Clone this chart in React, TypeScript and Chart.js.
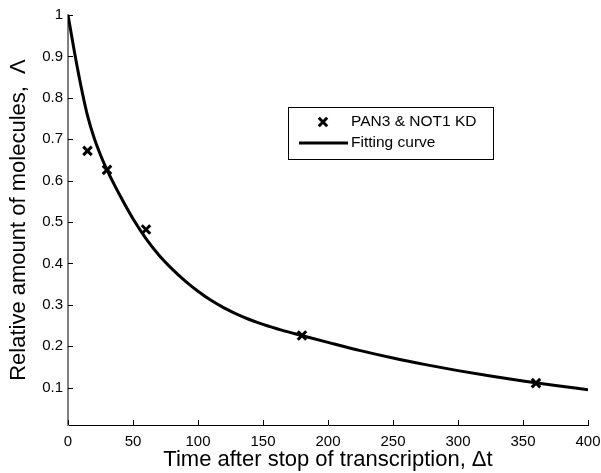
import React, { useEffect, useRef } from 'react';
import { Chart, registerables } from 'chart.js';

Chart.register(...registerables);

// ---- data ----
const markerTimes = [15, 30, 60, 180, 360];
const markerValues = [0.672, 0.626, 0.482, 0.226, 0.111];

const curveTimes = [0, 5, 10, 15, 20, 25, 30, 40, 50, 60, 70, 80, 90, 100, 110, 120, 135, 150, 165, 180, 200, 225, 250, 275, 300, 325, 350, 375, 400];
const curveValues = [1.0, 0.91, 0.828, 0.757, 0.704, 0.662, 0.626, 0.564, 0.508, 0.46, 0.42, 0.387, 0.358, 0.333, 0.311, 0.293, 0.2705, 0.253, 0.2385, 0.226, 0.2095, 0.1895, 0.1716, 0.1558, 0.1413, 0.1282, 0.1162, 0.1052, 0.0952];

const xTicks = [0, 50, 100, 150, 200, 250, 300, 350, 400];
const yTicks = [0.1, 0.2, 0.3, 0.4, 0.5, 0.6, 0.7, 0.8, 0.9, 1];

const seriesNames = ['PAN3 & NOT1 KD', 'Fitting curve'];
const xTitle = 'Time after stop of transcription, \u0394t';
const yTitle = 'Relative amount of molecules,  \u039B';

const FONT = '"Liberation Sans", Arial, Helvetica, sans-serif';

const inwardTicks = {
  id: 'inwardTicks',
  afterDraw(chart: any) {
    const ctx = chart.ctx;
    const xs = chart.scales.x;
    const ys = chart.scales.y;
    const area = chart.chartArea;
    ctx.save();
    ctx.strokeStyle = '#000';
    ctx.lineWidth = 1;
    ctx.beginPath();
    xTicks.forEach((v) => {
      const px = Math.round(xs.getPixelForValue(v)) + 0.5;
      ctx.moveTo(px, area.bottom);
      ctx.lineTo(px, area.bottom - 5);
    });
    yTicks.forEach((v) => {
      const py = Math.round(ys.getPixelForValue(v)) + 0.5;
      ctx.moveTo(area.left, py);
      ctx.lineTo(area.left + 5, py);
    });
    ctx.stroke();
    ctx.restore();
  },
};

const boxLegend = {
  id: 'boxLegend',
  afterDraw(chart: any) {
    const ctx = chart.ctx;
    const area = chart.chartArea;
    const bx = area.left + 220;
    const by = area.top + 92;
    const bw = 205;
    const bh = 52;
    ctx.save();
    ctx.fillStyle = '#fff';
    ctx.fillRect(bx, by, bw, bh);
    ctx.strokeStyle = '#000';
    ctx.lineWidth = 1;
    ctx.strokeRect(bx + 0.5, by + 0.5, bw, bh);

    // marker entry
    const mx = bx + 35;
    const my = by + 15;
    ctx.lineWidth = 3;
    ctx.beginPath();
    const r = 4.2;
    ctx.moveTo(mx - r, my - r);
    ctx.lineTo(mx + r, my + r);
    ctx.moveTo(mx - r, my + r);
    ctx.lineTo(mx + r, my - r);
    ctx.stroke();

    // line entry
    const ly = by + 36;
    ctx.beginPath();
    ctx.moveTo(bx + 11, ly);
    ctx.lineTo(bx + 60, ly);
    ctx.stroke();

    ctx.fillStyle = '#000';
    ctx.font = '15.5px ' + FONT;
    ctx.textAlign = 'left';
    ctx.textBaseline = 'middle';
    ctx.fillText(seriesNames[0], bx + 63, my);
    ctx.fillText(seriesNames[1], bx + 63, ly);
    ctx.restore();
  },
};

export default function App() {
  const canvasRef = useRef<HTMLCanvasElement | null>(null);

  useEffect(() => {
    document.body.style.margin = '0';
    const canvas = canvasRef.current;
    if (!canvas) return;
    const chart = new Chart(canvas, {
      type: 'scatter',
      data: {
        datasets: [
          {
            label: seriesNames[0],
            data: markerTimes.map((t, i) => ({ x: t, y: markerValues[i] })),
            showLine: false,
            pointStyle: 'crossRot',
            pointRadius: 6,
            pointBorderWidth: 3,
            borderColor: '#000',
            backgroundColor: '#000',
            order: 0,
          },
          {
            label: seriesNames[1],
            data: curveTimes.map((t, i) => ({ x: t, y: curveValues[i] })),
            showLine: true,
            pointRadius: 0,
            borderWidth: 3,
            borderColor: '#000',
            backgroundColor: '#000',
            cubicInterpolationMode: 'monotone',
            fill: false,
            order: 1,
          },
        ],
      },
      options: {
        animation: false,
        responsive: false,
        devicePixelRatio: 1,
        events: [],
        layout: { padding: { top: 15, right: 13, left: 0, bottom: 0 } },
        plugins: {
          legend: { display: false },
          tooltip: { enabled: false },
        },
        scales: {
          x: {
            type: 'linear',
            min: 0,
            max: 400,
            afterBuildTicks: (scale: any) => {
              scale.ticks = xTicks.map((v) => ({ value: v }));
            },
            afterFit: (scale: any) => {
              scale.height = 48;
              scale.paddingLeft = 0;
              scale.paddingRight = 0;
            },
            grid: { display: false, drawTicks: false },
            border: { display: true, color: '#000', width: 1 },
            ticks: {
              color: '#000',
              font: { family: FONT, size: 15 },
              padding: 8,
              maxRotation: 0,
              autoSkip: false,
              callback: (v: any) => String(v),
            },
            title: {
              display: true,
              text: xTitle,
              color: '#000',
              font: { family: FONT, size: 22 },
              padding: { top: 0, bottom: 0 },
            },
          },
          y: {
            type: 'linear',
            min: 0.01,
            max: 1,
            afterBuildTicks: (scale: any) => {
              scale.ticks = yTicks.map((v) => ({ value: v }));
            },
            afterFit: (scale: any) => {
              scale.width = 68;
              scale.paddingTop = 0;
              scale.paddingBottom = 0;
            },
            grid: { display: false, drawTicks: false },
            border: { display: true, color: '#808080', width: 2 },
            ticks: {
              color: '#000',
              font: { family: FONT, size: 15 },
              padding: 5,
              autoSkip: false,
              callback: (v: any) => String(Math.round(Number(v) * 10) / 10),
            },
            title: {
              display: true,
              text: yTitle,
              color: '#000',
              font: { family: FONT, size: 22 },
              padding: { top: 6, bottom: 0 },
            },
          },
        },
      },
      plugins: [inwardTicks, boxLegend],
    } as any);
    return () => chart.destroy();
  }, []);

  return (
    <div style={{ width: 601, height: 473, position: 'relative', background: '#fff' }}>
      <canvas ref={canvasRef} width={601} height={473} />
    </div>
  );
}
